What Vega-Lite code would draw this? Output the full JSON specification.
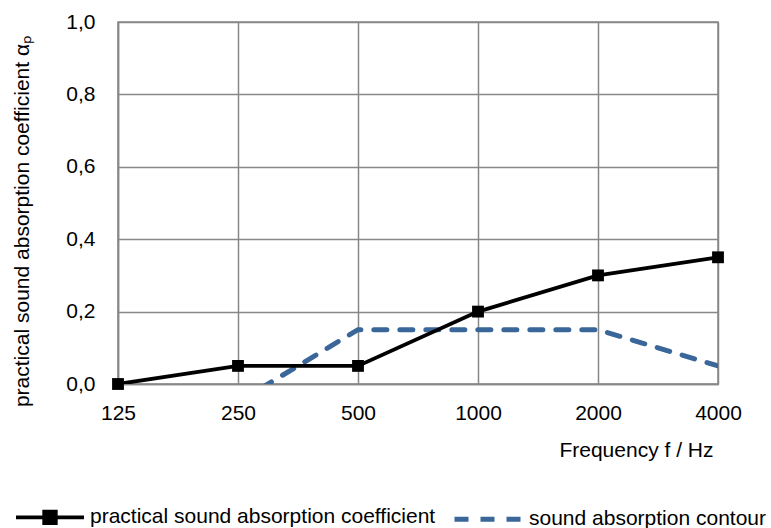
{
  "$schema": "https://vega.github.io/schema/vega-lite/v6.json",
  "width": 600,
  "height": 362,
  "autosize": "none",
  "padding": {"left": 118, "top": 22, "right": 53, "bottom": 144},
  "background": "white",
  "config": {
    "font": "Liberation Sans Narrow, Arial Narrow, Liberation Sans, sans-serif",
    "view": {"stroke": "#888888", "strokeWidth": 1.5},
    "axis": {
      "labelFont": "Liberation Sans Narrow, Arial Narrow, Liberation Sans, sans-serif",
      "titleFont": "Liberation Sans Narrow, Arial Narrow, Liberation Sans, sans-serif",
      "labelFontSize": 21,
      "titleFontSize": 21,
      "labelColor": "#000000",
      "titleColor": "#000000",
      "titleFontWeight": "normal",
      "gridColor": "#888888",
      "gridWidth": 1.5,
      "gridOpacity": 1,
      "domainColor": "#888888",
      "domainWidth": 1.5,
      "ticks": false,
      "labelFlush": false,
      "labelOverlap": false
    },
    "legend": {
      "labelFont": "Liberation Sans Narrow, Arial Narrow, Liberation Sans, sans-serif",
      "labelFontSize": 21,
      "labelColor": "#000000",
      "labelLimit": 500
    }
  },
  "data": {
    "values": [
      {"f": 125, "a": 0.0, "series": "practical sound absorption coefficient"},
      {"f": 250, "a": 0.05, "series": "practical sound absorption coefficient"},
      {"f": 500, "a": 0.05, "series": "practical sound absorption coefficient"},
      {"f": 1000, "a": 0.2, "series": "practical sound absorption coefficient"},
      {"f": 2000, "a": 0.3, "series": "practical sound absorption coefficient"},
      {"f": 4000, "a": 0.35, "series": "practical sound absorption coefficient"},
      {"f": 250, "a": -0.05, "series": "sound absorption contour"},
      {"f": 500, "a": 0.15, "series": "sound absorption contour"},
      {"f": 1000, "a": 0.15, "series": "sound absorption contour"},
      {"f": 2000, "a": 0.15, "series": "sound absorption contour"},
      {"f": 4000, "a": 0.05, "series": "sound absorption contour"}
    ]
  },
  "encoding": {
    "x": {
      "field": "f",
      "type": "quantitative",
      "scale": {"type": "log", "base": 2, "domain": [125, 4000], "nice": false},
      "axis": {
        "values": [125, 250, 500, 1000, 2000, 4000],
        "format": "d",
        "labelPadding": 18,
        "title": "Frequency f / Hz",
        "titleX": 595,
        "titleY": 66,
        "titleAlign": "right",
        "titleBaseline": "middle",
        "titleAnchor": null
      }
    },
    "y": {
      "field": "a",
      "type": "quantitative",
      "scale": {"domain": [0, 1], "nice": false},
      "axis": {
        "values": [0, 0.2, 0.4, 0.6, 0.8, 1.0],
        "labelExpr": "replace(format(datum.value, '.1f'), '.', ',')",
        "labelPadding": 23,
        "title": "practical sound absorption coefficient αₚ",
        "titleX": -96,
        "titleY": 199,
        "titleAlign": "center",
        "titleBaseline": "middle",
        "titleAngle": -90,
        "titleAnchor": null
      }
    }
  },
  "layer": [
    {
      "transform": [{"filter": "datum.series === 'sound absorption contour'"}],
      "mark": {"type": "line", "clip": true, "strokeWidth": 5, "strokeCap": "round", "strokeDash": [13, 13], "color": "#3a6699"},
      "encoding": {}
    },
    {
      "transform": [{"filter": "datum.series === 'practical sound absorption coefficient'"}],
      "mark": {"type": "line", "clip": true, "strokeWidth": 3.8, "color": "#000000"},
      "encoding": {}
    },
    {
      "transform": [{"filter": "datum.series === 'practical sound absorption coefficient'"}],
      "mark": {"type": "point", "shape": "square", "filled": true, "size": 140, "opacity": 1, "clip": false, "color": "#000000"},
      "encoding": {}
    },
    {
      "mark": {"type": "point", "filled": true, "opacity": 0, "clip": true},
      "encoding": {
        "shape": {
          "field": "series",
          "type": "nominal",
          "scale": {
            "domain": ["practical sound absorption coefficient", "sound absorption contour"],
            "range": ["M-1,0H1M-0.17,-0.17H0.17V0.17H-0.17Z", "M-1,0H1"]
          },
          "legend": {
            "title": null,
            "orient": "none",
            "legendX": -104,
            "legendY": 459,
            "direction": "horizontal",
            "symbolSize": 4624,
            "symbolOpacity": 1,
            "columnPadding": 8,
            "labelOffset": 4,
            "symbolOffset": 0,
            "labelLimit": 500,
            "encode": {"symbols": {"update": {"strokeCap": {"value": "round"}}}}
          }
        },
        "stroke": {
          "field": "series",
          "type": "nominal",
          "scale": {"domain": ["practical sound absorption coefficient", "sound absorption contour"], "range": ["#000000", "#3a6699"]}
        },
        "fill": {
          "field": "series",
          "type": "nominal",
          "scale": {"domain": ["practical sound absorption coefficient", "sound absorption contour"], "range": ["#000000", "#3a6699"]}
        },
        "strokeDash": {
          "field": "series",
          "type": "nominal",
          "scale": {"domain": ["practical sound absorption coefficient", "sound absorption contour"], "range": [[1, 0], [14, 12]]}
        },
        "strokeWidth": {
          "field": "series",
          "type": "nominal",
          "scale": {"domain": ["practical sound absorption coefficient", "sound absorption contour"], "range": [3.8, 5]}
        }
      }
    }
  ]
}
